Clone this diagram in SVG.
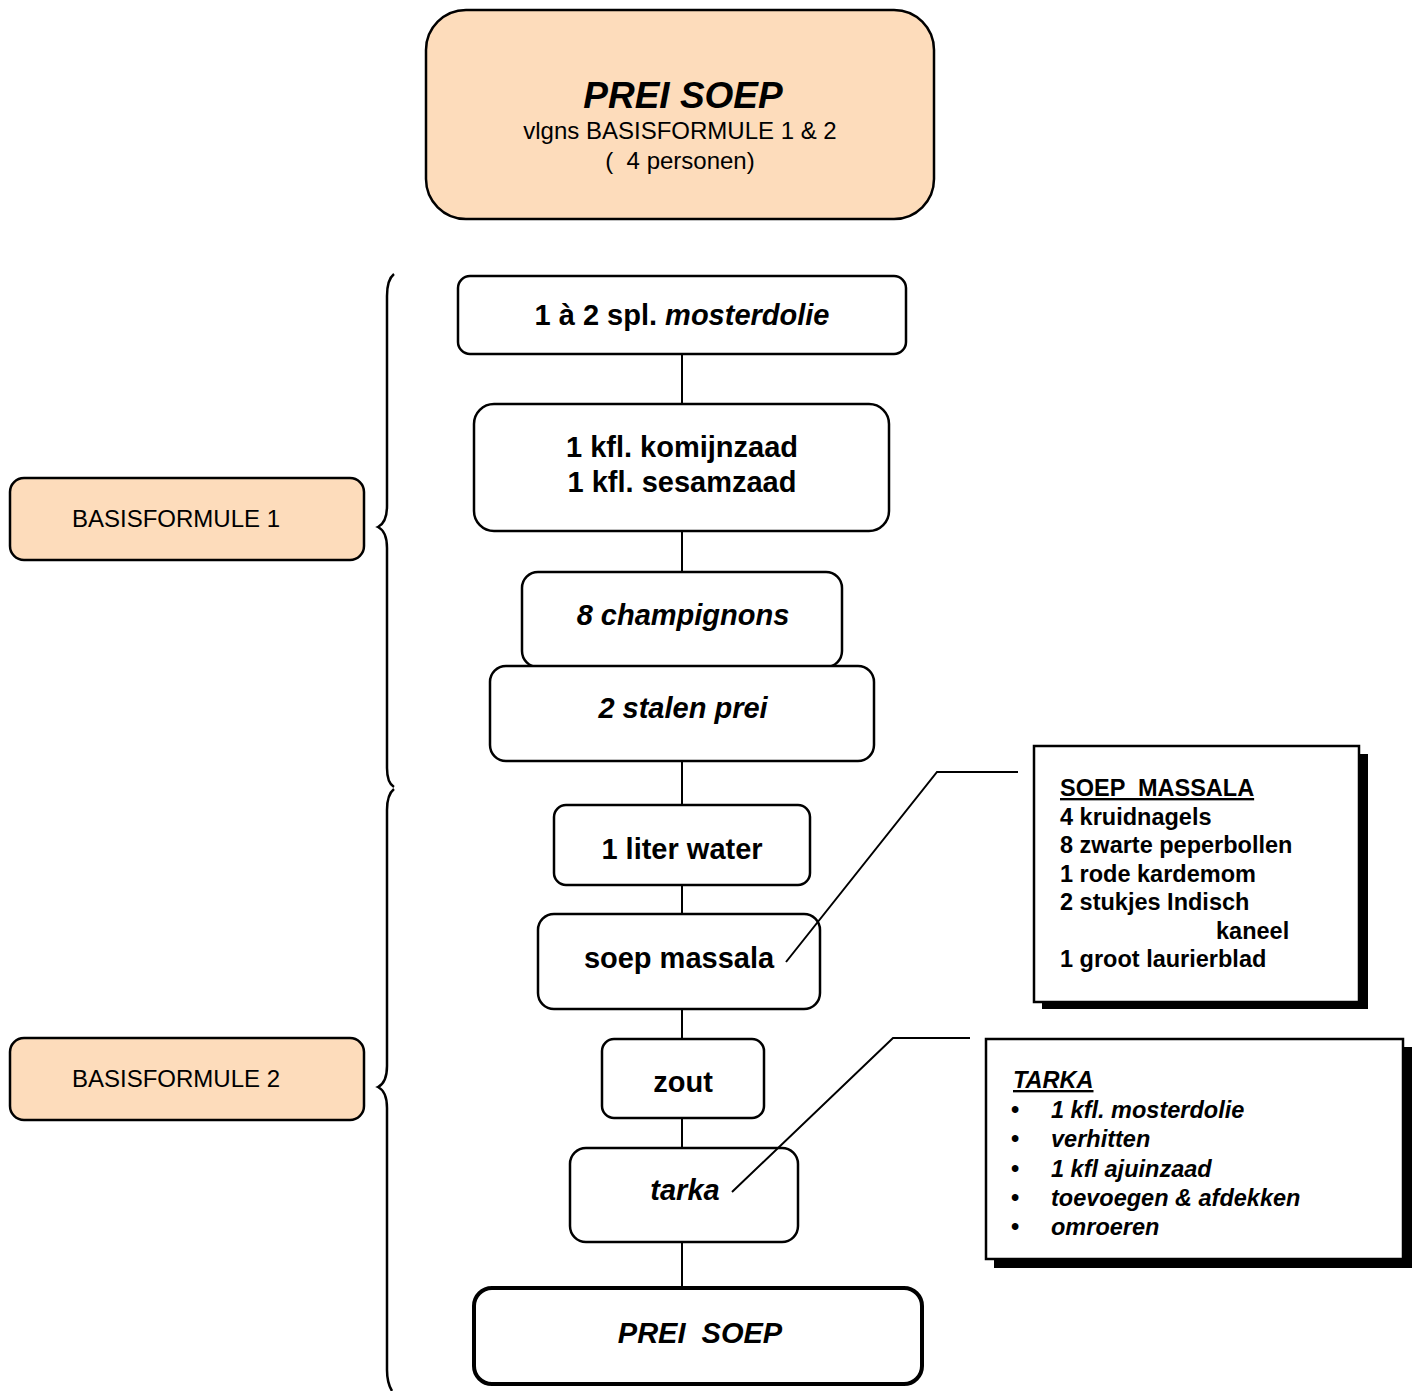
<svg xmlns="http://www.w3.org/2000/svg" width="1418" height="1391" viewBox="0 0 1418 1391">
<style>
  .peach { fill: #fddcbb; stroke: #000; stroke-width: 2.5; }
  .box { fill: #fff; stroke: #000; stroke-width: 2.5; }
  .bold-box { fill: #fff; stroke: #000; stroke-width: 4; }
  .line { fill: none; stroke: #000; stroke-width: 2; }
  .brace { fill: none; stroke: #000; stroke-width: 2.5; }
  text { font-family: "Liberation Sans", Arial, sans-serif; fill: #000; }
  .n { font-size: 29px; font-weight: bold; text-anchor: middle; }
  .ni { font-size: 29px; font-weight: bold; font-style: italic; text-anchor: middle; }
  .lbl { font-size: 24px; text-anchor: middle; }
  .list { font-size: 23.5px; font-weight: bold; }
  .listi { font-size: 23.5px; font-weight: bold; font-style: italic; }
</style>

<g id="title">
  <rect class="peach" x="426" y="10" width="508" height="209" rx="40"/>
  <text x="683" y="108" style="font-size:37px;font-weight:bold;font-style:italic;text-anchor:middle">PREI SOEP</text>
  <text class="lbl" x="680" y="139">vlgns BASISFORMULE 1 &amp; 2</text>
  <text class="lbl" x="680" y="169" xml:space="preserve">(  4 personen)</text>
</g>

<g id="basisformule1">
  <rect class="peach" x="10" y="478" width="354" height="82" rx="14"/>
  <text class="lbl" x="176" y="527">BASISFORMULE 1</text>
</g>
<g id="basisformule2">
  <rect class="peach" x="10" y="1038" width="354" height="82" rx="14"/>
  <text class="lbl" x="176" y="1087">BASISFORMULE 2</text>
</g>

<g id="braces">
  <path class="brace" d="M394,274 C389,278 387,285 387,296 L387,506 C387,518 384,524 378,527 C384,530 387,536 387,548 L387,768 C387,779 389,784 394,787"/>
  <path class="brace" d="M394,789 C389,793 387,800 387,810 L387,1066 C387,1078 384,1084 378,1087 C384,1090 387,1096 387,1108 L387,1370 C387,1381 389,1386 392,1391"/>
</g>

<g id="connectors">
  <line class="line" x1="682" y1="354" x2="682" y2="404"/>
  <line class="line" x1="682" y1="531" x2="682" y2="572"/>
  <line class="line" x1="682" y1="761" x2="682" y2="805"/>
  <line class="line" x1="682" y1="885" x2="682" y2="914"/>
  <line class="line" x1="682" y1="1009" x2="682" y2="1039"/>
  <line class="line" x1="682" y1="1118" x2="682" y2="1148"/>
  <line class="line" x1="682" y1="1242" x2="682" y2="1288"/>
</g>

<g id="n1">
  <rect class="box" x="458" y="276" width="448" height="78" rx="12"/>
  <text class="n" x="682" y="325">1 à 2 spl. <tspan font-style="italic">mosterdolie</tspan></text>
</g>
<g id="n2">
  <rect class="box" x="474" y="404" width="415" height="127" rx="20"/>
  <text class="n" x="682" y="457">1 kfl. komijnzaad</text>
  <text class="n" x="682" y="492">1 kfl. sesamzaad</text>
</g>
<g id="n3">
  <rect class="box" x="522" y="572" width="320" height="95" rx="16"/>
  <text class="ni" x="683" y="625">8 champignons</text>
</g>
<g id="n4">
  <rect class="box" x="490" y="666" width="384" height="95" rx="16"/>
  <text class="ni" x="683" y="718">2 stalen prei</text>
</g>
<g id="n5">
  <rect class="box" x="554" y="805" width="256" height="80" rx="12"/>
  <text class="n" x="682" y="859">1 liter water</text>
</g>
<g id="n6">
  <rect class="box" x="538" y="914" width="282" height="95" rx="16"/>
  <text class="n" x="679" y="968">soep massala</text>
</g>
<g id="n7">
  <rect class="box" x="602" y="1039" width="162" height="79" rx="12"/>
  <text class="n" x="683" y="1092">zout</text>
</g>
<g id="n8">
  <rect class="box" x="570" y="1148" width="228" height="94" rx="16"/>
  <text class="ni" x="685" y="1200">tarka</text>
</g>
<g id="n9">
  <rect class="bold-box" x="474" y="1288" width="448" height="96" rx="18"/>
  <text class="ni" x="700" y="1343" xml:space="preserve">PREI  SOEP</text>
</g>

<g id="callouts">
  <polyline class="line" points="786,962 937,772 1018,772"/>
  <polyline class="line" points="732,1192 893,1038 970,1038"/>
</g>

<g id="massala-note">
  <rect x="1042" y="754" width="326" height="255" fill="#000"/>
  <rect class="box" x="1034" y="746" width="325" height="256"/>
  <text class="list" x="1060" y="796" text-decoration="underline" xml:space="preserve">SOEP  MASSALA</text>
  <text class="list" x="1060" y="825">4 kruidnagels</text>
  <text class="list" x="1060" y="853">8 zwarte peperbollen</text>
  <text class="list" x="1060" y="882">1 rode kardemom</text>
  <text class="list" x="1060" y="910">2 stukjes Indisch</text>
  <text class="list" x="1216" y="939">kaneel</text>
  <text class="list" x="1060" y="967">1 groot laurierblad</text>
</g>

<g id="tarka-note">
  <rect x="994" y="1047" width="418" height="221" fill="#000"/>
  <rect class="box" x="986" y="1039" width="417" height="220"/>
  <text class="listi" x="1013" y="1088" text-decoration="underline">TARKA</text>
  <text class="list" x="1011" y="1118">•</text>
  <text class="list" x="1011" y="1147">•</text>
  <text class="list" x="1011" y="1177">•</text>
  <text class="list" x="1011" y="1206">•</text>
  <text class="list" x="1011" y="1235">•</text>
  <text class="listi" x="1051" y="1118">1 kfl. mosterdolie</text>
  <text class="listi" x="1051" y="1147">verhitten</text>
  <text class="listi" x="1051" y="1177">1 kfl ajuinzaad</text>
  <text class="listi" x="1051" y="1206">toevoegen &amp; afdekken</text>
  <text class="listi" x="1051" y="1235">omroeren</text>
</g>
</svg>
